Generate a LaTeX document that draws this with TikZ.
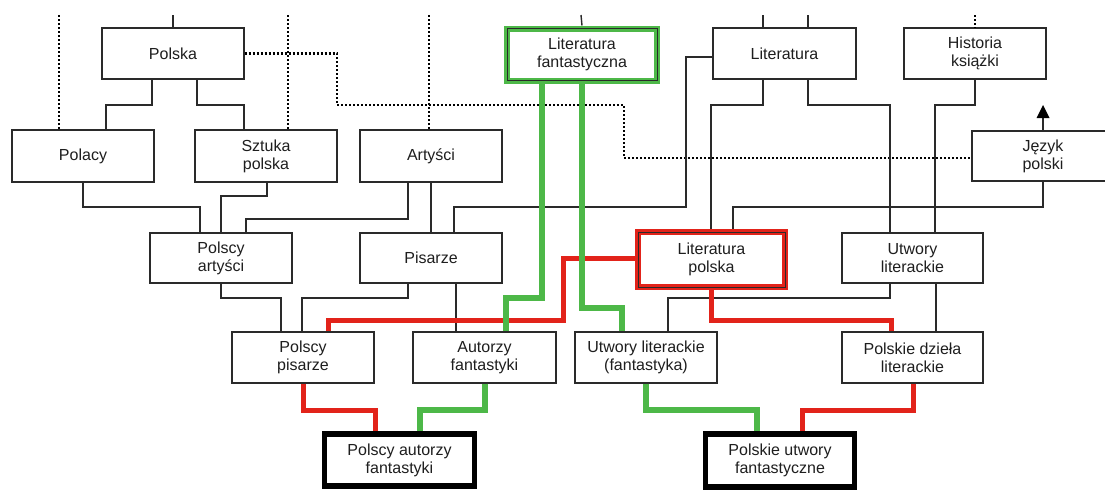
\documentclass[tikz,border=0pt]{standalone}
\usepackage{fontspec}
\setmainfont{Liberation Sans}
\usetikzlibrary{arrows.meta}
\definecolor{linec}{HTML}{2A2A2A}
\definecolor{gr}{HTML}{4DB848}
\definecolor{rd}{HTML}{E2231A}
\definecolor{txt}{HTML}{1E1E1E}
\begin{document}
\begin{tikzpicture}[x=1pt,y=-1pt,
  box/.style={draw=linec, fill=white, line width=1.4pt, minimum width=142pt, minimum height=51pt, inner sep=0pt, align=center, font={\fontsize{16}{18}\selectfont}, text=txt},
  conn/.style={draw=linec, line width=1.4pt},
  dotline/.style={draw=black, line width=2.4pt, dash pattern=on 2.2pt off 1.8pt},
  gline/.style={draw=gr, line width=5.5pt},
  rline/.style={draw=rd, line width=5pt},
  innerline/.style={draw=linec, line width=0.9pt}]
\useasboundingbox (0,0) rectangle (1105,490);
\fill[white] (0,0) rectangle (1105,490);
\clip (0,0) rectangle (1105,490);

% free ends at the top
\coordinate (t1) at (173,15);
\coordinate (t2) at (581,15);
\coordinate (t3) at (763,15);
\coordinate (t4) at (808,15);
\coordinate (t5) at (975,15);
\coordinate (d1) at (59,15);
\coordinate (d2) at (288,15);
\coordinate (d3) at (429,15);
\coordinate (arr) at (1043,105);

% row 1
\node[box] (polska) at (173,53.5) {Polska};
\node[box, draw=gr, line width=6pt, minimum width=150pt, minimum height=52pt] (litfant) at (582,54.5) {Literatura\\fantastyczna};
\node[box, minimum width=143pt] (lit) at (784.5,53.5) {Literatura};
\node[box] (hist) at (975,53.5) {Historia\\książki};
% row 2
\node[box, minimum height=52pt] (polacy) at (83,156) {Polacy};
\node[box, minimum height=52pt] (sztuka) at (266,156) {Sztuka\\polska};
\node[box, minimum height=52pt] (art) at (431,156) {Artyści};
\node[box, minimum height=50pt] (jezyk) at (1043,156) {Język\\polski};
% row 3
\node[box, minimum height=50pt] (polart) at (221,258) {Polscy\\artyści};
\node[box, minimum height=50pt] (pis) at (431,258) {Pisarze};
\node[box, draw=rd, line width=5.5pt, minimum width=147pt, minimum height=55pt] (litpol) at (711.5,259.5) {Literatura\\polska};
\node[box, minimum height=50pt, minimum width=141pt] (utwlit) at (912.5,258) {Utwory\\literackie};
% row 4
\node[box] (polpis) at (303,357.5) {Polscy\\pisarze};
\node[box, minimum width=143pt] (autfan) at (484.5,357.5) {Autorzy\\fantastyki};
\node[box] (utwfan) at (646,357.5) {Utwory literackie\\(fantastyka)};
\node[box, minimum width=141pt] (poldz) at (912.5,357.5) {Polskie dzieła\\literackie};
% row 5
\node[box, line width=5.5pt, draw=black, minimum width=150pt, minimum height=52pt] (paf) at (399.5,460) {Polscy autorzy\\fantastyki};
\node[box, line width=5.5pt, draw=black, minimum width=149pt, minimum height=53pt] (puf) at (780,460.5) {Polskie utwory\\fantastyczne};

% inner thin lines of highlighted boxes
\draw[innerline] ([xshift=3pt,yshift=-3pt]litfant.north west) rectangle ([xshift=-3pt,yshift=3pt]litfant.south east);
\draw[innerline] ([xshift=2.7pt,yshift=-2.7pt]litpol.north west) rectangle ([xshift=-2.7pt,yshift=2.7pt]litpol.south east);

% black connectors
\draw[conn] (t1) -- (polska.north);
\draw[conn] (t2) -- (litfant.north);
\draw[conn] (t3) -- (lit.north -| t3);
\draw[conn] (t4) -- (lit.north -| t4);
\draw[dotline] (t5) -- (hist.north);
\draw[dotline] (d1) -- (polacy.north -| d1);
\draw[dotline] (d2) -- (sztuka.north -| d2);
\draw[dotline] (d3) -- (art.north -| d3);
\draw[dotline] (polska.east) -- (337,53.5) -- (337,105) -- (624,105) -- (624,158) -- (jezyk.west |- 0,158);

\draw[conn] (polska.south -| 152,0) -- (152,105) -| (polacy.north -| 106,0);
\draw[conn] (polska.south -| 197,0) -- (197,105) -| (sztuka.north -| 244,0);
\draw[conn] (polacy.south) -- (83,207) -| (polart.north -| 200,0);
\draw[conn] (sztuka.south -| 267,0) -- (267,196) -| (polart.north -| 221,0);
\draw[conn] (art.south -| 408,0) -- (408,219) -| (polart.north -| 246,0);
\draw[conn] (art.south) -- (pis.north);
\draw[conn] (lit.west |- 0,57) -- (686,57) -- (686,207) -| (pis.north -| 454,0);
\draw[conn] (lit.south -| 763,0) -- (763,105) -| (litpol.north -| 711,0);
\draw[conn] (lit.south -| 808,0) -- (808,105) -| (utwlit.north -| 890,0);
\draw[conn] (hist.south) -- (975,105) -| (utwlit.north -| 935,0);
\draw[conn] (jezyk.north) -- ([yshift=-8pt]arr);
\fill[black] (arr) -- ++(-6.5,13) -- ++(13,0) -- cycle;
\draw[conn] (jezyk.south) -- (1043,207) -| (litpol.north -| 733,0);
\draw[conn] (polart.south) -- (221,298) -| (polpis.north -| 281,0);
\draw[conn] (pis.south -| 408,0) -- (408,298) -| (polpis.north -| 302,0);
\draw[conn] (pis.south -| 456,0) -- (autfan.north -| 456,0);
\draw[conn] (utwlit.south -| 890,0) -- (890,298) -| (utwfan.north -| 668,0);
\draw[conn] (utwlit.south -| 936,0) -- (poldz.north -| 936,0);

% red connectors
\draw[rline] (litpol.west |- 0,258) -- (563,258) -- (563,320) -| (polpis.north -| 328,0);
\draw[rline] (litpol.south -| 711,0) -- (711,320) -| (poldz.north -| 891,0);
\draw[rline] (polpis.south) -- (303,410) -| (paf.north -| 375,0);
\draw[rline] (poldz.south -| 913,0) -- (913,410) -| (puf.north -| 802,0);

% green connectors
\draw[gline] (litfant.south -| 542,0) -- (542,298) -| (autfan.north -| 506,0);
\draw[gline] (litfant.south -| 582,0) -- (582,308) -| (utwfan.north -| 622,0);
\draw[gline] (autfan.south -| 485,0) -- (485,410) -| (paf.north -| 420,0);
\draw[gline] (utwfan.south) -- (646,410) -| (puf.north -| 757,0);
\end{tikzpicture}
\end{document}
